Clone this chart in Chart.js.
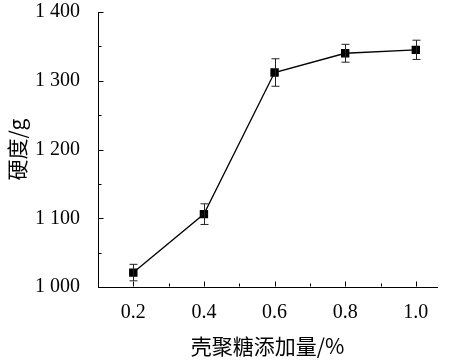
<!DOCTYPE html>
<html lang="zh">
<head>
<meta charset="UTF-8">
<title>硬度</title>
<script src="https://cdn.jsdelivr.net/npm/chart.js@4.4.1/dist/chart.umd.min.js"></script>
<style>
  html, body { margin: 0; padding: 0; background: #fff; }
  #wrap { width: 453px; height: 363px; }
</style>
</head>
<body>
<div id="wrap"><canvas id="hardness"></canvas></div>
<script>
// data
var addition = [0.2, 0.4, 0.6, 0.8, 1.0];        // 壳聚糖添加量 /%
var hardness = [1021, 1106, 1312, 1340, 1345];   // 硬度 /g
var errors   = [12, 15, 20, 13, 14];
var yTicks   = [1000, 1100, 1200, 1300, 1400];

var serif = "'Liberation Serif', 'DejaVu Serif', serif";
var cjk = "'Noto Sans CJK SC', 'Noto Sans', sans-serif";

function fmt(v) {
  var s = String(v);
  return s.length > 3 ? s.slice(0, s.length - 3) + ' ' + s.slice(-3) : s;
}

// error bars + inward tick marks
var extras = {
  id: 'extras',
  afterDatasetsDraw: function(chart) {
    var ctx = chart.ctx, x = chart.scales.x, y = chart.scales.y;
    var area = chart.chartArea;
    ctx.save();
    ctx.strokeStyle = '#222';
    ctx.lineWidth = 1;
    for (var i = 0; i < addition.length; i++) {
      var px = Math.round(x.getPixelForValue(addition[i])) + 0.5;
      var top = y.getPixelForValue(hardness[i] + errors[i]);
      var bot = y.getPixelForValue(hardness[i] - errors[i]);
      ctx.beginPath();
      ctx.moveTo(px, top); ctx.lineTo(px, bot);
      ctx.moveTo(px - 4, top); ctx.lineTo(px + 4, top);
      ctx.moveTo(px - 4, bot); ctx.lineTo(px + 4, bot);
      ctx.stroke();
    }
    ctx.strokeStyle = '#000';
    ctx.beginPath();
    var ax = area.left + 0.5;
    for (var j = 0; j < yTicks.length; j++) {
      var py = Math.round(y.getPixelForValue(yTicks[j])) + 0.5;
      ctx.moveTo(ax, py); ctx.lineTo(ax + 5, py);
      if (j < yTicks.length - 1) {
        var pm = Math.round(y.getPixelForValue(yTicks[j] + 50)) + 0.5;
        ctx.moveTo(ax, pm); ctx.lineTo(ax + 3, pm);
      }
    }
    var ay = area.bottom - 0.5;
    for (var k = 0; k < addition.length; k++) {
      var qx = Math.round(x.getPixelForValue(addition[k])) + 0.5;
      ctx.moveTo(qx, ay); ctx.lineTo(qx, ay - 5);
      var qm = Math.round(x.getPixelForValue(addition[k] - 0.1)) + 0.5;
      ctx.moveTo(qm, ay); ctx.lineTo(qm, ay - 3);
    }
    ctx.stroke();
    ctx.restore();
  }
};

var ctx = document.getElementById('hardness').getContext('2d');
new Chart(ctx, {
  type: 'line',
  data: {
    datasets: [{
      data: addition.map(function(v, i) { return {x: v, y: hardness[i]}; }),
      borderColor: '#000',
      borderWidth: 1.3,
      pointStyle: 'rect',
      pointRadius: 5,
      pointBackgroundColor: '#000',
      pointBorderColor: '#000',
      tension: 0
    }]
  },
  options: {
    responsive: true,
    maintainAspectRatio: false,
    animation: false,
    layout: { padding: { top: 12, right: 16, left: 0, bottom: 0 } },
    plugins: { legend: { display: false }, tooltip: { enabled: false } },
    scales: {
      x: {
        type: 'linear',
        min: 0.1,
        max: 1.06,
        afterBuildTicks: function(s) { s.ticks = addition.map(function(v) { return {value: v}; }); },
        afterFit: function(s) { s.height = 76; },
        grid: { display: false },
        border: { display: true, color: '#000', width: 1 },
        ticks: {
          color: '#000',
          padding: 6,
          maxRotation: 0,
          font: { family: serif, size: 20 },
          callback: function(v) { return Number(v).toFixed(1); }
        },
        title: {
          display: true,
          text: '壳聚糖添加量/%',
          color: '#000',
          padding: { top: 4 },
          font: { family: cjk, size: 21 }
        }
      },
      y: {
        min: 1000,
        max: 1400,
        afterBuildTicks: function(s) { s.ticks = yTicks.map(function(v) { return {value: v}; }); },
        afterFit: function(s) { s.width = 98; s.paddingTop = 0; s.paddingBottom = 0; },
        grid: { display: false },
        border: { display: true, color: '#000', width: 1 },
        ticks: {
          color: '#000',
          padding: 10,
          font: { family: serif, size: 20 },
          callback: function(v) { return fmt(v); }
        },
        title: {
          display: true,
          text: '硬度/g',
          color: '#000',
          padding: { bottom: 4 },
          font: { family: cjk, size: 21 }
        }
      }
    }
  },
  plugins: [extras]
});
</script>
</body>
</html>
